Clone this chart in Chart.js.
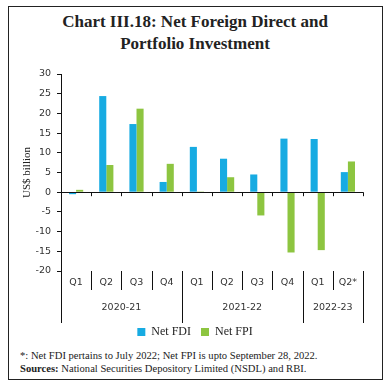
<!DOCTYPE html>
<html>
<head>
<meta charset="utf-8">
<script src="https://cdn.jsdelivr.net/npm/chart.js@4"></script>
<style>
  body { margin: 0; width: 390px; height: 387px; background: #fff; position: relative; overflow: hidden; }
  #frame { position: absolute; left: 8px; top: 6px; width: 373px; height: 372px; border: 1.5px solid #222; }
  #title { position: absolute; left: 0; top: 11px; width: 390px; text-align: center;
           font: bold 17px "Liberation Serif", serif; line-height: 22px; color: #222; }
  #wrap { position: absolute; left: 0; top: 60px; width: 390px; height: 288px; }
  #notes { position: absolute; left: 20px; top: 350px; font: 10.6px "Liberation Serif", serif;
           line-height: 12.5px; color: #222; }
</style>
</head>
<body>
<div id="frame"></div>
<div id="title">Chart III.18: Net Foreign Direct and<br>Portfolio Investment</div>
<div id="wrap"><canvas id="chart"></canvas></div>
<div id="notes">*: Net FDI pertains to July 2022; Net FPI is upto September 28, 2022.<br><b>Sources:</b> National Securities Depository Limited (NSDL) and RBI.</div>
<script>
// Quarters and fiscal years
const quarters = ["Q1", "Q2", "Q3", "Q4", "Q1", "Q2", "Q3", "Q4", "Q1", "Q2*"];
const years = ["2020-21", "2021-22", "2022-23"];
const yearSpans = [4, 4, 2];

// US$ billion
const netFDI = [-0.5, 24.4, 17.3, 2.6, 11.5, 8.5, 4.5, 13.6, 13.5, 5.1];
const netFPI = [0.6, 6.9, 21.2, 7.2, 0.2, 3.8, -5.9, -15.3, -14.7, 7.8];

const yTicks = [-20, -15, -10, -5, 0, 5, 10, 15, 20, 25, 30];

const tickFont = { family: "DejaVu Sans", size: 9.5 };

// Zero line, category ticks and the two-level labels under the plot
const axisLabels = {
  id: "axisLabels",
  afterDraw(chart) {
    const ctx = chart.ctx;
    const x = chart.scales.x;
    const y = chart.scales.y;
    const step = x.getPixelForValue(1) - x.getPixelForValue(0);
    const edge = (i) => x.getPixelForValue(0) - step / 2 + i * step;
    const y0 = y.getPixelForValue(0);
    const base = chart.chartArea.bottom;

    ctx.save();
    ctx.strokeStyle = "#111";
    ctx.lineWidth = 1;

    // zero line with ticks
    ctx.beginPath();
    ctx.moveTo(edge(0), Math.round(y0) + 0.5);
    ctx.lineTo(edge(quarters.length), Math.round(y0) + 0.5);
    for (let i = 1; i <= quarters.length; i++) {
      const px = Math.round(edge(i)) + 0.5;
      ctx.moveTo(px, y0);
      ctx.lineTo(px, y0 + 4);
    }
    ctx.stroke();

    // separators below the plot
    const yearEdges = [0];
    yearSpans.forEach((n) => yearEdges.push(yearEdges[yearEdges.length - 1] + n));
    ctx.beginPath();
    for (let i = 0; i <= quarters.length; i++) {
      const px = Math.round(edge(i)) + 0.5;
      const len = yearEdges.includes(i) ? 52 : 19;
      ctx.moveTo(px, base);
      ctx.lineTo(px, base + len);
    }
    ctx.stroke();

    // labels
    ctx.fillStyle = "#333";
    ctx.font = "9.5px 'DejaVu Sans'";
    ctx.textAlign = "center";
    ctx.textBaseline = "middle";
    quarters.forEach((q, i) => ctx.fillText(q, x.getPixelForValue(i), base + 12));
    years.forEach((yr, j) => {
      const mid = (edge(yearEdges[j]) + edge(yearEdges[j + 1])) / 2;
      ctx.fillText(yr, mid, base + 37);
    });
    ctx.restore();
  },
};

new Chart(document.getElementById("chart"), {
  type: "bar",
  data: {
    labels: quarters,
    datasets: [
      {
        label: "Net FDI",
        data: netFDI,
        backgroundColor: "#17ABE2",
        categoryPercentage: 0.47,
        barPercentage: 1,
      },
      {
        label: "Net FPI",
        data: netFPI,
        backgroundColor: "#8DC540",
        categoryPercentage: 0.47,
        barPercentage: 1,
      },
    ],
  },
  options: {
    responsive: true,
    maintainAspectRatio: false,
    animation: false,
    layout: { padding: { top: 14, left: 0, right: 0, bottom: 0 } },
    plugins: {
      legend: {
        position: "bottom",
        labels: {
          boxWidth: 8,
          boxHeight: 8,
          padding: 10,
          color: "#222",
          font: { family: "Liberation Serif", size: 12 },
        },
      },
      tooltip: { enabled: false },
    },
    scales: {
      x: {
        ticks: { display: false },
        grid: { display: false },
        border: { display: false },
        afterFit: (s) => { s.height = 45; },
      },
      y: {
        min: -20,
        max: 30,
        afterBuildTicks: (s) => { s.ticks = yTicks.map((v) => ({ value: v })); },
        ticks: { color: "#333", font: tickFont, padding: 6 },
        grid: { drawOnChartArea: false, tickLength: 4, color: "#111" },
        border: { color: "#111" },
        title: {
          display: true,
          text: "US$ billion",
          color: "#222",
          font: { family: "Liberation Serif", size: 11 },
          padding: { top: 21, bottom: 0 },
        },
        afterFit: (s) => { s.width = 61; },
      },
      yRight: {
        position: "right",
        ticks: { display: false },
        grid: { display: false },
        border: { display: false },
        afterFit: (s) => { s.width = 27; },
      },
    },
  },
  plugins: [axisLabels],
});
</script>
</body>
</html>
